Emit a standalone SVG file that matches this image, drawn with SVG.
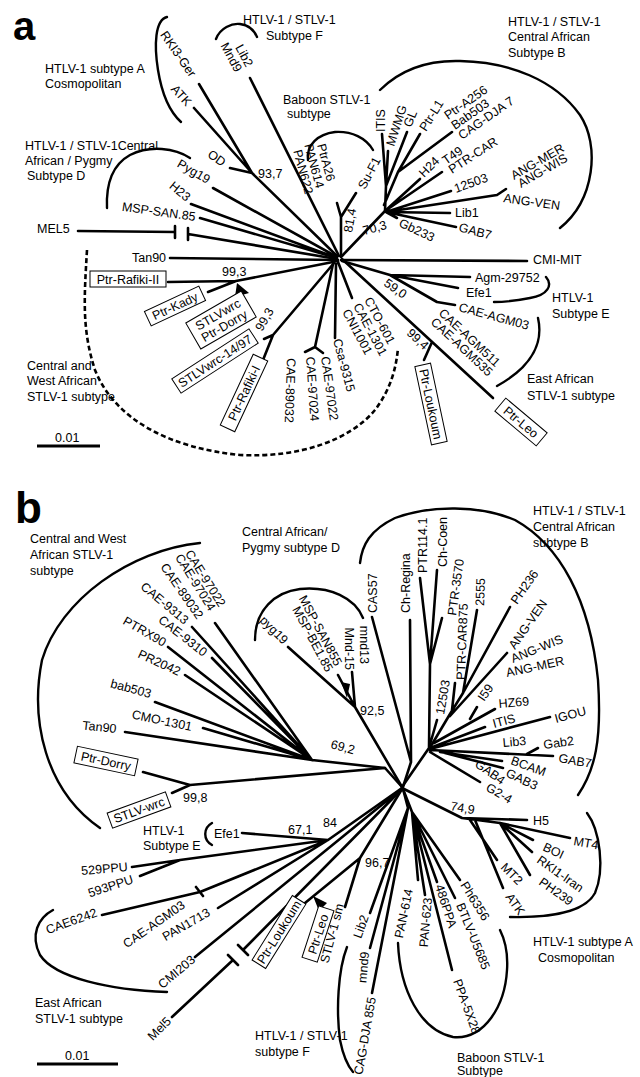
<svg xmlns="http://www.w3.org/2000/svg" width="640" height="1077" viewBox="0 0 640 1077">
<style>
text{font-family:"Liberation Sans",Arial,sans-serif;font-size:12.5px;fill:#000}
.l{fill:none;stroke:#000;stroke-width:2.6;stroke-linecap:round;stroke-linejoin:round}
.br{fill:none;stroke:#000;stroke-width:2.4;stroke-linecap:round}
.d{fill:none;stroke:#000;stroke-width:2.6;stroke-dasharray:5 3}
.bx{fill:#fff;stroke:#000;stroke-width:1}
.e{text-anchor:end}
.m{text-anchor:middle}
text.big{font-weight:bold}
</style>
<rect width="640" height="1077" fill="#fff"/>

<!-- ================= PANEL A ================= -->
<g id="connectors-a" class="l">
<path d="M199,84 L252,173 M194,108 L252,173 M230,168 L252,173 M252,173 L337,256"/>
<path d="M250,78 L339,256"/>
<path d="M341,257 L341,217 L356,193 M341,217 L337,203"/>
<path d="M342,256 L385,211 L386,186 M386,186 L382,134 M386,186 L388,151 M386,186 L407,132 M384,205 L398,172 L420,134 M398,172 L452,132"/>
<path d="M385,211 L420,179 M385,211 L442,172 M386,212 L451,191 M386,212 L497,195 L506,189 M386,212 L450,213 M386,212 L456,227 M386,212 L397,218"/>
<path d="M213,188 L337,257 M191,204 L337,258 M200,218 L337,258"/>
<path d="M78,231 L175,232 M188,234 L337,259 M175,226 L175,238 M188,228 L188,240"/>
<path d="M170,258 L338,260"/>
<path d="M341,260 L527,261"/>
<path d="M168,282 L236,281 L338,261 M208,292 L236,281"/>
<path d="M334,263 L273,335 L263,360 M273,335 L264,339"/>
<path d="M333,264 L315,347 L305,352 M315,347 L323,353"/>
<path d="M336,264 L335,338 M338,262 L352,298"/>
<path d="M342,259 L493,398 M432,342 L424,360"/>
<path d="M342,261 L390,275 L470,277 M390,275 L458,288 M390,275 L437,302 L455,305"/>
<polygon points="237,283 249,293 235,297" fill="#000" stroke="none"/>
</g>

<g id="brackets-a">
<path class="br" d="M167,17 C155,20 154,45 158,70 C162,95 170,112 181,122"/>
<path class="br" d="M216,39 C220,28 232,23 240,24 C248,25 254,30 257,37"/>
<path class="br" d="M308,160 C306,145 318,134 335,132 C352,131 366,138 373,150"/>
<path class="br" d="M380,90 C400,70 425,60 460,61 C510,62 555,80 580,115 C600,145 595,200 560,228"/>
<path class="br" d="M190,158 C175,148 150,145 130,155 C112,165 106,185 107,208"/>
<path class="br" d="M546,277 C553,285 548,295 530,298 C515,301 502,302 494,302"/>
<path class="br" d="M538,318 C543,340 535,365 497,386"/>
<path class="d" d="M87,250 C84,300 82,330 95,370 C115,420 170,448 240,455 C300,458 350,440 375,410 C390,390 396,370 398,348"/>
<path d="M37,446 L100,446" stroke="#000" stroke-width="3"/>
</g>

<g id="labels-a">
<text x="13" y="40" class="big" style="font-size:40px">a</text>
<text x="45" y="73">HTLV-1 subtype A</text>
<text x="45" y="88">Cosmopolitan</text>
<text x="243" y="24">HTLV-1 / STLV-1</text>
<text x="266" y="40">Subtype F</text>
<text x="283" y="104">Baboon STLV-1</text>
<text x="287" y="118">subtype</text>
<text x="508" y="26">HTLV-1 / STLV-1</text>
<text x="508" y="41">Central African</text>
<text x="508" y="57">Subtype B</text>
<text x="25" y="150">HTLV-1 / STLV-1Central</text>
<text x="25" y="165">African / Pygmy</text>
<text x="27" y="180">Subtype D</text>
<text x="552" y="302">HTLV-1</text>
<text x="552" y="318">Subtype E</text>
<text x="527" y="383">East African</text>
<text x="527" y="400">STLV-1 subtype</text>
<text x="27" y="370">Central and</text>
<text x="27" y="385">West African</text>
<text x="27" y="401">STLV-1 subtype</text>
<text x="55" y="442">0.01</text>
<text x="258" y="178">93,7</text>
<text transform="translate(352 233) rotate(-80)">81,4</text>
<text transform="translate(364 235) rotate(-15)">70,3</text>
<text transform="translate(383 285) rotate(35)">59,0</text>
<text transform="translate(406 334) rotate(43)">99,4</text>
<text x="222" y="276">99,3</text>
<text transform="translate(262 332) rotate(-60)">99,3</text>
</g>

<g id="leaves-a">
<text class="e" transform="translate(190 78) rotate(55)">RKI3-Ger</text>
<text class="e" transform="translate(186 107) rotate(48)">ATK</text>
<text class="e" transform="translate(222 167) rotate(35)">OD</text>
<text class="e" transform="translate(246 68) rotate(62)">Lib2</text>
<text class="e" transform="translate(235 73) rotate(62)">Mnd9</text>
<text class="e" transform="translate(327 182) rotate(75)">PtrA26</text>
<text class="e" transform="translate(316 189) rotate(75)">PAN614</text>
<text class="e" transform="translate(305 195) rotate(75)">PAN622</text>
<text transform="translate(365 190) rotate(-62)">Su-F1</text>
<text transform="translate(385 132) rotate(-90)">ITIS</text>
<text transform="translate(394 147) rotate(-72)">MWMG</text>
<text transform="translate(411 128) rotate(-68)">GL</text>
<text transform="translate(426 132) rotate(-58)">Ptr-L1</text>
<text transform="translate(448 120) rotate(-35)">Ptr-A256</text>
<text transform="translate(455 130) rotate(-35)">Bab503</text>
<text transform="translate(462 140) rotate(-35)">CAG-DJA  7</text>
<text transform="translate(424 178) rotate(-45)">H24</text>
<text transform="translate(446 165) rotate(-35)">T49</text>
<text transform="translate(452 174) rotate(-33)">PTR-CAR</text>
<text transform="translate(456 193) rotate(-20)">12503</text>
<text transform="translate(514 180) rotate(-30)">ANG-MER</text>
<text transform="translate(521 188) rotate(-30)">ANG-WIS</text>
<text transform="translate(503 202) rotate(8)">ANG-VEN</text>
<text x="455" y="217">Lib1</text>
<text transform="translate(458 231) rotate(15)">GAB7</text>
<text transform="translate(398 226) rotate(25)">Gb233</text>
<text x="533" y="264">CMI-MIT</text>
<text x="475" y="282">Agm-29752</text>
<text x="466" y="297">Efe1</text>
<text transform="translate(458 311) rotate(15)">CAE-AGM03</text>
<text transform="translate(438 314) rotate(43)">CAE-AGM511</text>
<text transform="translate(430 323) rotate(43)">CAE-AGM535</text>
<text class="e" transform="translate(207 184) rotate(30)">Pyg19</text>
<text class="e" transform="translate(186 202) rotate(40)">H23</text>
<text class="e" transform="translate(195 221) rotate(8)">MSP-SAN.85</text>
<text x="37" y="233">MEL5</text>
<text x="132" y="262">Tan90</text>
<text transform="translate(364 300) rotate(62)">CTO-601</text>
<text transform="translate(353 306) rotate(62)">CAE-1301</text>
<text transform="translate(342 312) rotate(62)">CNI1001</text>
<text transform="translate(333 340) rotate(75)">Csa-9315</text>
<text transform="translate(321 357) rotate(82)">CAE-97022</text>
<text transform="translate(306 357) rotate(86)">CAE-97024</text>
<text transform="translate(287 358) rotate(92)">CAE-89032</text>
<g id="box-rafiki2" transform="translate(128 279)"><rect class="bx" x="-38" y="-8" width="76" height="16"/><text class="m" y="4.5">Ptr-Rafiki-II</text></g>
<g id="box-kady" transform="translate(175 306) rotate(-25)"><rect class="bx" x="-30" y="-8" width="60" height="16"/><text class="m" y="4.5">Ptr-Kady</text></g>
<g id="box-dorry-a" transform="translate(221 320) rotate(-30)"><rect class="bx" x="-32" y="-15" width="64" height="30"/><text class="m" y="-2">STLVwrc</text><text class="m" y="11">Ptr-Dorry</text></g>
<g id="box-wrc1497" transform="translate(215 361) rotate(-33)"><rect class="bx" x="-46" y="-8.5" width="92" height="17"/><text class="m" y="4.5">STLVwrc-14/97</text></g>
<g id="box-rafiki1" transform="translate(244 393) rotate(-65)"><rect class="bx" x="-39" y="-8" width="78" height="16"/><text class="m" y="4.5">Ptr-Rafiki-I</text></g>
<g id="box-loukoum-a" transform="translate(431 404) rotate(78)"><rect class="bx" x="-40" y="-8" width="80" height="16"/><text class="m" y="4.5">Ptr-Loukoum</text></g>
<g id="box-leo-a" transform="translate(521 422) rotate(40)"><rect class="bx" x="-27" y="-8.5" width="54" height="17"/><text class="m" y="4.5">Ptr-Leo</text></g>
</g>

<!-- ================= PANEL B ================= -->
<g id="connectors-b" class="l">
<path d="M215,623 L312,760 M192,627 L312,760 M212,658 L312,760 M168,647 L312,760 M185,675 L312,760 M155,702 L312,760 M203,728 L312,760 M125,732 L312,760 M312,760 L385,768 L402,787"/>
<path d="M143,772 L190,785 M172,793 L190,785 M190,785 L385,768"/>
<path d="M288,647 L355,707 M338,675 L355,707 M352,672 L355,707 M355,707 L402,787"/>
<path d="M372,617 L411,762 M410,620 L411,762 M411,762 L403,787"/>
<path d="M420,578 L430,664 M437,570 L430,664 M442,618 L430,664 M430,664 L429,748 M437,720 L429,748 M402,787 L429,748"/>
<path d="M477,610 L463,693 M510,607 L463,693 M463,693 L450,714 M455,683 L452,710 M507,653 L450,716 M450,714 L431,746"/>
<path d="M434,743 L495,709 M470,719 L477,707 M430,748 L485,727 M430,749 L550,717"/>
<path d="M430,750 L553,756 M527,754 L538,748 M440,752 L502,761 M445,753 L503,768 M430,752 L480,782"/>
<path d="M402,788 L462,818 L527,820 M462,818 L500,823 L570,838 M500,823 L533,840 M500,823 L532,852 M500,823 L530,875 M470,820 L497,860 M475,820 L503,888"/>
<path d="M403,789 L412,812 L460,880 M412,812 L455,898 M412,812 L437,882 M412,812 L452,970 M412,812 L425,895 M412,812 L418,880"/>
<path d="M360,858 L402,789 M305,903 L360,858 M345,907 L360,858 M370,913 L408,808 M370,948 L408,808 M372,993 L408,808 M408,808 L403,789"/>
<path d="M328,840 L402,788 M242,833 L328,840 M132,867 L180,860 L328,840 M140,876 L180,860 M102,915 L200,892 L328,840 M196,887 L203,896 M218,908 L328,840"/>
<path d="M195,957 L400,790 M172,1017 L233,960 M243,950 L400,791 M228,955 L238,965 M238,945 L248,955"/>
<polygon points="341,682 350,684 347,698" fill="#000" stroke="none"/>
<polygon points="313,896 327,903 319,911" fill="#000" stroke="none"/>
<path d="M321,909 L324,915" stroke-width="1"/>
</g>

<g id="brackets-b">
<path class="br" d="M200,543 C130,550 60,600 42,660 C30,720 45,790 100,828"/>
<path class="br" d="M255,640 C255,610 275,592 300,589 C330,586 355,598 363,618"/>
<path class="br" d="M360,563 C362,545 370,530 395,518 C430,505 480,505 515,520 C560,545 590,600 598,680 C602,740 595,770 578,795"/>
<path class="br" d="M587,813 C600,830 605,870 595,893 C585,912 550,918 510,917"/>
<path class="br" d="M398,943 C400,990 420,1030 453,1037 C485,1040 505,1005 507,970 C508,955 505,940 500,930"/>
<path class="br" d="M347,947 C338,970 336,1010 340,1040 C343,1055 347,1065 353,1072"/>
<path class="br" d="M53,910 C38,918 30,935 40,955 C55,978 110,990 167,992"/>
<path class="br" d="M212,823 C203,828 203,840 212,845"/>
<path d="M37,1064 L118,1064" stroke="#000" stroke-width="3"/>
</g>

<g id="labels-b">
<text x="15" y="523" class="big" style="font-size:44px">b</text>
<text x="30" y="543">Central and West</text>
<text x="30" y="559">African STLV-1</text>
<text x="30" y="575">subtype</text>
<text x="242" y="536">Central African/</text>
<text x="242" y="552">Pygmy subtype D</text>
<text x="533" y="515">HTLV-1 / STLV-1</text>
<text x="533" y="531">Central African</text>
<text x="533" y="547">subtype B</text>
<text x="143" y="835">HTLV-1</text>
<text x="143" y="850">Subtype E</text>
<text x="533" y="946">HTLV-1 subtype A</text>
<text x="538" y="962">Cosmopolitan</text>
<text x="457" y="1062">Baboon STLV-1</text>
<text x="457" y="1075">Subtype</text>
<text x="255" y="1040">HTLV-1 / STLV-1</text>
<text x="255" y="1056">subtype F</text>
<text x="35" y="1007">East African</text>
<text x="35" y="1023">STLV-1 subtype</text>
<text x="65" y="1060">0.01</text>
<text transform="translate(330 748) rotate(15)">69,2</text>
<text x="360" y="715">92,5</text>
<text x="183" y="802">99,8</text>
<text transform="translate(450 810) rotate(10)">74,9</text>
<text x="288" y="834">67,1</text>
<text x="323" y="827">84</text>
<text x="365" y="867">96,7</text>
</g>

<g id="leaves-b">
<text class="e" transform="translate(219 608) rotate(58)">CAE-97022</text>
<text class="e" transform="translate(209 612) rotate(58)">CAE-97024</text>
<text class="e" transform="translate(197 620) rotate(55)">CAE-89032</text>
<text class="e" transform="translate(184 625) rotate(40)">CAE-9313</text>
<text class="e" transform="translate(203 657) rotate(38)">CAE-9310</text>
<text class="e" transform="translate(163 647) rotate(30)">PTRX90</text>
<text class="e" transform="translate(178 676) rotate(25)">PR2042</text>
<text class="e" transform="translate(150 698) rotate(15)">bab503</text>
<text class="e" transform="translate(191 731) rotate(12)">CMO-1301</text>
<text class="e" transform="translate(116 733) rotate(6)">Tan90</text>
<g id="box-dorry-b" transform="translate(106 761) rotate(12)"><rect class="bx" x="-31" y="-8.5" width="62" height="17"/><text class="m" y="4.5">Ptr-Dorry</text></g>
<g id="box-wrc-b" transform="translate(139 810) rotate(-20)"><rect class="bx" x="-31" y="-8" width="62" height="16"/><text class="m" y="4.5">STLV-wrc</text></g>
<text class="e" transform="translate(283 645) rotate(45)">pyg19</text>
<text class="e" transform="translate(335 667) rotate(62)">MSP-SAN855</text>
<text class="e" transform="translate(326 673) rotate(62)">MSP-BE1.85</text>
<text class="e" transform="translate(345 670) rotate(90)">Mnd-15</text>
<text class="e" transform="translate(360 664) rotate(90)">mnd13</text>
<text transform="translate(377 613) rotate(-90)">CAS57</text>
<text transform="translate(410 613) rotate(-90)">Ch-Regina</text>
<text transform="translate(427 573) rotate(-90)">PTR114.1</text>
<text transform="translate(447 567) rotate(-90)">Ch-Coen</text>
<text transform="translate(456 616) rotate(-82)">PTR-3570</text>
<text transform="translate(465 680) rotate(-88)">PTR-CAR875</text>
<text transform="translate(484 606) rotate(-88)">2555</text>
<text transform="translate(444 715) rotate(-80)">12503</text>
<text transform="translate(517 605) rotate(-55)">PH236</text>
<text transform="translate(515 650) rotate(-55)">ANG-VEN</text>
<text transform="translate(513 663) rotate(-22)">ANG-WIS</text>
<text transform="translate(507 677) rotate(-12)">ANG-MER</text>
<text transform="translate(484 702) rotate(-55)">I59</text>
<text transform="translate(499 708) rotate(-5)">HZ69</text>
<text transform="translate(494 728) rotate(-15)">ITIS</text>
<text transform="translate(556 723) rotate(-15)">IGOU</text>
<text transform="translate(503 747) rotate(-5)">Lib3</text>
<text transform="translate(544 749) rotate(-8)">Gab2</text>
<text transform="translate(558 762) rotate(10)">GAB7</text>
<text transform="translate(510 764) rotate(20)">BCAM</text>
<text transform="translate(505 776) rotate(25)">GAB3</text>
<text transform="translate(474 766) rotate(35)">GAB4</text>
<text transform="translate(485 790) rotate(30)">G2-4</text>
<text x="533" y="825">H5</text>
<text transform="translate(573 845) rotate(10)">MT4</text>
<text transform="translate(542 850) rotate(25)">BOI</text>
<text transform="translate(536 862) rotate(35)">RKI1-Iran</text>
<text transform="translate(538 884) rotate(35)">PH239</text>
<text transform="translate(500 868) rotate(45)">MT2</text>
<text transform="translate(505 897) rotate(55)">ATK</text>
<text transform="translate(460 885) rotate(58)">Ph6356</text>
<text transform="translate(456 905) rotate(68)">BTLV-U5685</text>
<text transform="translate(435 886) rotate(72)">486PPA</text>
<text transform="translate(453 981) rotate(70)">PPA-5X28</text>
<text class="e" transform="translate(432 898) rotate(-85)">PAN-623</text>
<text class="e" transform="translate(413 890) rotate(-78)">PAN-614</text>
<text class="e" transform="translate(344 905) rotate(-75)">STLV-1 sm</text>
<text class="e" transform="translate(369 917) rotate(-70)">Lib2</text>
<text class="e" transform="translate(369 952) rotate(-85)">mnd9</text>
<text class="e" transform="translate(376 998) rotate(-80)">CAG-DJA 855</text>
<g id="box-loukoum-b" transform="translate(279 932) rotate(-58)"><rect class="bx" x="-38" y="-8" width="76" height="16"/><text class="m" y="4.5">Ptr-Loukoum</text></g>
<g id="box-leo-b" transform="translate(318 934) rotate(-72)"><rect class="bx" x="-27" y="-8" width="54" height="16"/><text class="m" y="4.5">Ptr-Leo</text></g>
<text class="e" transform="translate(172 1022) rotate(-45)">Mel5</text>
<text class="e" transform="translate(196 961) rotate(-40)">CMI203</text>
<text class="e" transform="translate(211 915) rotate(-30)">PAN1713</text>
<text class="e" transform="translate(186 907) rotate(-35)">CAE-AGM03</text>
<text class="e" transform="translate(98 916) rotate(-20)">CAE6242</text>
<text class="e" transform="translate(128 871) rotate(-5)">529PPU</text>
<text class="e" transform="translate(134 883) rotate(-18)">593PPU</text>
<text x="214" y="838">Efe1</text>
</g>
</svg>
